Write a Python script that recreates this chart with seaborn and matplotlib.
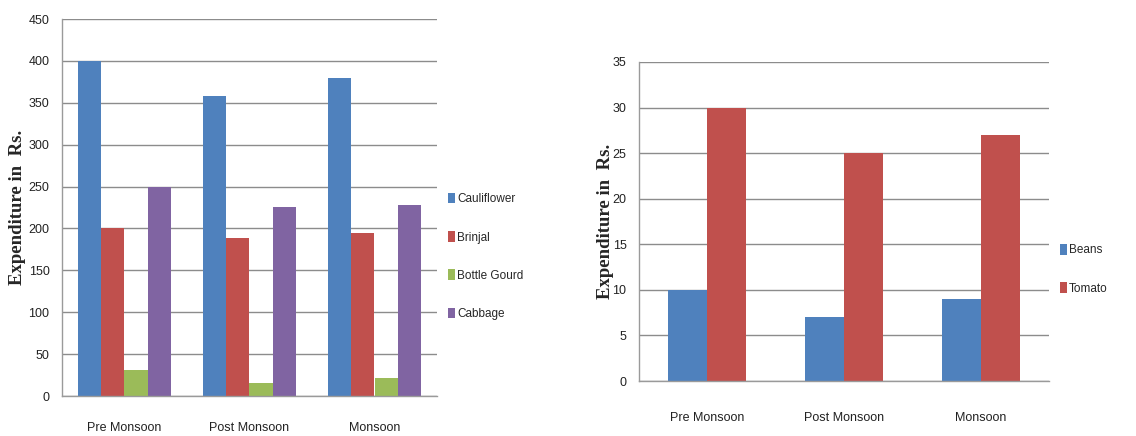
import numpy as np
import pandas as pd
import matplotlib
matplotlib.use('Agg')
import matplotlib.pyplot as plt
import seaborn as sns

sns.set_style('white')
plt.rcParams['font.family'] = ['Liberation Sans Narrow', 'Liberation Sans', 'DejaVu Sans']

# Data
seasons = ['Pre Monsoon', 'Post Monsoon', 'Monsoon']

veg_left = ['Cauliflower', 'Brinjal', 'Bottle Gourd', 'Cabbage']
cauliflower = [400, 358, 380]
brinjal = [200, 189, 195]
bottle_gourd = [31, 15, 21]
cabbage = [250, 226, 228]

veg_right = ['Beans', 'Tomato']
beans = [10, 7, 9]
tomato = [30, 25, 27]

colors_left = ['#4F81BD', '#C0504D', '#9BBB59', '#8064A2']
colors_right = ['#4F81BD', '#C0504D']

df_left = pd.DataFrame({
    'Season': seasons * 4,
    'Vegetable': [v for v in veg_left for _ in seasons],
    'Value': cauliflower + brinjal + bottle_gourd + cabbage,
})
df_right = pd.DataFrame({
    'Season': seasons * 2,
    'Vegetable': [v for v in veg_right for _ in seasons],
    'Value': beans + tomato,
})

fig = plt.figure(figsize=(11.36, 4.36), dpi=100)
W, H = 1136, 436
ax1 = fig.add_axes([62 / W, (H - 396) / H, 375 / W, 377 / H])
ax2 = fig.add_axes([639 / W, (H - 381) / H, 410 / W, 319 / H])


def style_axis(ax, ymax, ystep, ylabel_x, xpad):
    ax.set_ylim(0, ymax)
    ax.set_xlim(-0.5, 2.5)
    ax.set_yticks(np.arange(0, ymax + 1, ystep))
    ax.yaxis.grid(True, color='#8c8c8c', linewidth=1.0)
    ax.set_axisbelow(True)
    for s in ['top', 'right']:
        ax.spines[s].set_visible(False)
    for s in ['left', 'bottom']:
        ax.spines[s].set_color('#9a9a9a')
        ax.spines[s].set_linewidth(1.0)
    ax.set_xticks([-0.5, 0.5, 1.5, 2.5], minor=True)
    ax.tick_params(axis='x', which='minor', length=6, color='#9a9a9a', width=1)
    ax.tick_params(axis='x', which='major', length=0, pad=xpad, labelsize=9,
                   labelcolor='#222222')
    ax.tick_params(axis='y', which='major', length=5, color='#9a9a9a', width=1,
                   labelsize=9, labelcolor='#222222', pad=4)
    ax.set_xlabel('')
    ax.set_ylabel('Expenditure in  Rs.', fontsize=13.5, fontweight='bold',
                  family=['Liberation Serif', 'DejaVu Serif'])
    ax.yaxis.set_label_coords(ylabel_x, 0.5)


sns.barplot(data=df_left, x='Season', y='Value', hue='Vegetable',
            palette=colors_left, width=0.74, saturation=1, ax=ax1,
            edgecolor='none')
style_axis(ax1, 450, 50, -0.095, 19)
ax1.legend(loc='center left', bbox_to_anchor=(1.0, 0.37), frameon=False,
           fontsize=8.5, handlelength=0.6, handleheight=1.0, handletextpad=0.2,
           labelspacing=2.2)

sns.barplot(data=df_right, x='Season', y='Value', hue='Vegetable',
            palette=colors_right, width=0.57, saturation=1, ax=ax2,
            edgecolor='none')
style_axis(ax2, 35, 5, -0.06, 22)
ax2.legend(loc='center left', bbox_to_anchor=(1.0, 0.35), frameon=False,
           fontsize=8.5, handlelength=0.6, handleheight=1.0, handletextpad=0.2,
           labelspacing=2.2)

fig.savefig('out.png', dpi=100)
